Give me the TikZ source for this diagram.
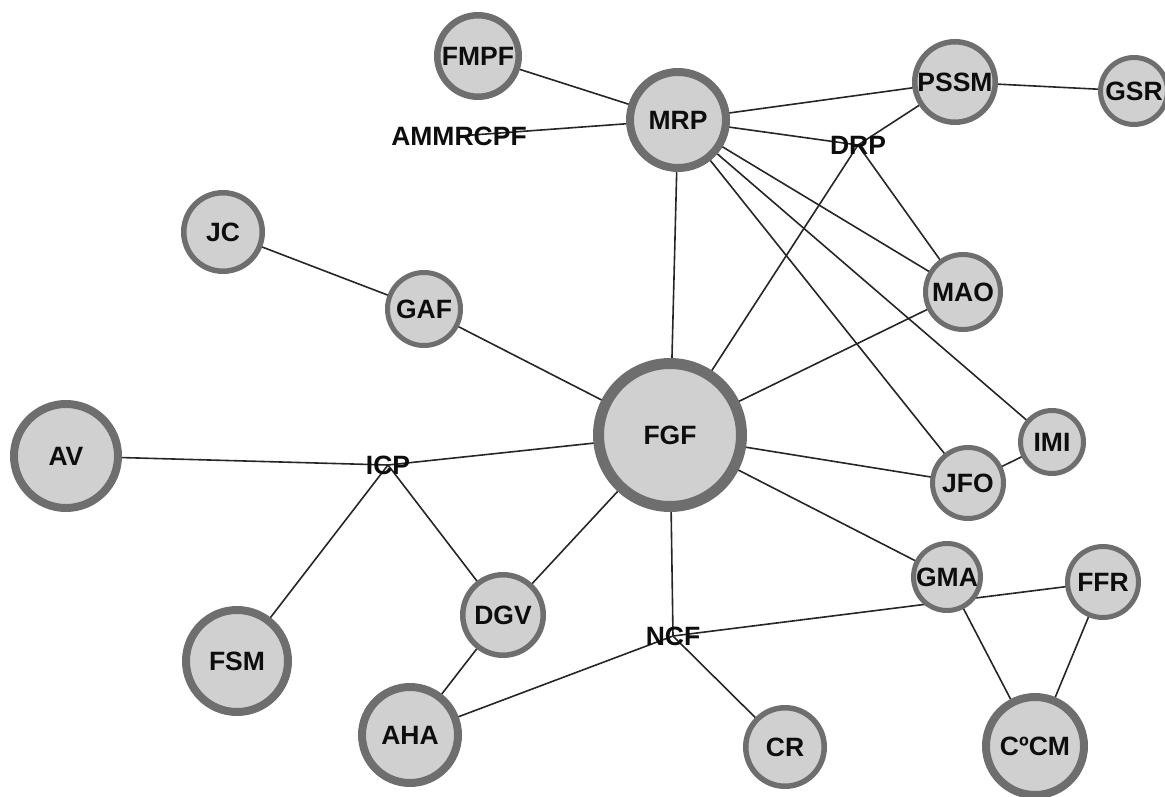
\documentclass[tikz,border=0pt]{standalone}
\usepackage{fontspec}
\setmainfont{Liberation Sans}
\usetikzlibrary{backgrounds}
\definecolor{nodefill}{HTML}{D0D0D0}
\definecolor{noderim}{HTML}{6E6E6E}
\definecolor{edgecol}{HTML}{262626}
\begin{document}
\begin{tikzpicture}[x=1pt,y=-1pt,
  lbl/.style={font=\fontsize{26.5}{30}\selectfont\bfseries, text=black!95, inner sep=0pt},
  bub/.style 2 args={lbl, circle, fill=nodefill, draw=noderim,
    line width=#2, minimum size={2*#1pt-#2}},
  link/.style={draw=edgecol, line width=1.6pt}]
\useasboundingbox (0,0) rectangle (1165,797);

% circular topic nodes
\node[bub={44}{6.5pt}] (fmpf) at (478,56) {FMPF};
\node[bub={52}{8pt}]   (mrp)  at (678,120) {MRP};
\node[bub={43}{5.5pt}] (pssm) at (955,82) {PSSM};
\node[bub={36}{5pt}]   (gsr)  at (1134,91) {GSR};
\node[bub={42}{5.5pt}] (jc)   at (223,232) {JC};
\node[bub={39}{5pt}]   (gaf)  at (424,309) {GAF};
\node[bub={40}{5pt}]   (mao)  at (963,292) {MAO};
\node[bub={77}{11pt}]  (fgf)  at (670,435) {FGF};
\node[bub={56}{8pt}]   (av)   at (66,456) {AV};
\node[bub={34}{5pt}]   (imi)  at (1052,442) {IMI};
\node[bub={38}{5pt}]   (jfo)  at (968,483) {JFO};
\node[bub={36}{5pt}]   (gma)  at (947,577) {GMA};
\node[bub={38}{5pt}]   (ffr)  at (1103,582) {FFR};
\node[bub={43}{5.5pt}] (dgv)  at (503,615) {DGV};
\node[bub={55}{8pt}]   (fsm)  at (237,661) {FSM};
\node[bub={52}{8pt}]   (aha)  at (410,735) {AHA};
\node[bub={42}{5.5pt}] (cr)   at (785,747) {CR};
\node[bub={53}{8pt}]   (ccm)  at (1035,746) {CºCM};

% plain-text nodes
\node[lbl] (ammrcpf) at (459,136) {AMMRCPF};
\node[lbl] (drp)     at (858,145) {DRP};
\node[lbl] (icp)     at (388,465) {ICP};
\node[lbl] (ncf)     at (673,636) {NCF};

% connectors, drawn beneath the nodes
\begin{scope}[on background layer]
  \foreach \a/\b in {fmpf/mrp, ammrcpf/mrp, mrp/pssm, pssm/gsr, mrp/drp,
      drp/pssm, mrp/fgf, mrp/mao, mrp/imi, mrp/jfo, drp/mao, drp/fgf,
      jc/gaf, gaf/fgf, mao/fgf, av/icp, icp/fgf, icp/fsm, icp/dgv,
      fgf/dgv, fgf/jfo, imi/jfo, fgf/gma, fgf/ncf, ncf/ffr, ncf/aha,
      ncf/cr, dgv/aha, gma/ccm, ffr/ccm}
    \draw[link] (\a.center) -- (\b.center);
\end{scope}
\end{tikzpicture}
\end{document}
